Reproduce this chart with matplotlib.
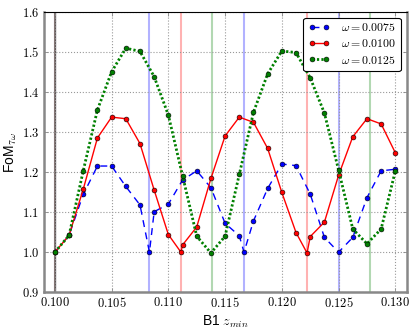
import matplotlib
matplotlib.use("Agg")
import matplotlib.pyplot as plt
from matplotlib.ticker import FuncFormatter

plt.rcParams['mathtext.fontset'] = 'cm'
plt.rcParams['font.family'] = ['Liberation Sans', 'DejaVu Sans']

# ---- data ----
x_blue = [0.1, 0.10125, 0.1025, 0.10375, 0.105, 0.10625, 0.1075, 0.108333, 0.10875,
          0.11, 0.11125, 0.1125, 0.11375, 0.115, 0.11625, 0.116667, 0.1175, 0.11875,
          0.12, 0.12125, 0.1225, 0.12375, 0.125, 0.12625, 0.1275, 0.12875, 0.13]
y_blue = [1.0, 1.042, 1.144, 1.215, 1.215, 1.164, 1.118, 1.0, 1.101,
          1.12, 1.18, 1.203, 1.161, 1.072, 1.041, 1.0, 1.078, 1.159,
          1.22, 1.216, 1.145, 1.037, 1.0, 1.037, 1.136, 1.203, 1.207]

x_red = [0.1, 0.10125, 0.1025, 0.10375, 0.105, 0.10625, 0.1075, 0.10875, 0.11,
         0.111111, 0.11125, 0.1125, 0.11375, 0.115, 0.11625, 0.1175, 0.11875, 0.12,
         0.12125, 0.122222, 0.1225, 0.12375, 0.125, 0.12625, 0.1275, 0.12875, 0.13]
y_red = [1.0, 1.042, 1.157, 1.285, 1.337, 1.333, 1.271, 1.155, 1.044,
         1.0, 1.018, 1.063, 1.184, 1.29, 1.337, 1.324, 1.259, 1.149,
         1.049, 0.998, 1.039, 1.075, 1.192, 1.288, 1.333, 1.32, 1.248]

x_green = [0.1, 0.10125, 0.1025, 0.10375, 0.105, 0.10625, 0.1075, 0.10875, 0.11,
           0.11125, 0.1125, 0.11375, 0.115, 0.11625, 0.1175, 0.11875, 0.12, 0.12125,
           0.1225, 0.12375, 0.125, 0.12625, 0.1275, 0.12875, 0.13]
y_green = [1.0, 1.042, 1.203, 1.355, 1.45, 1.509, 1.501, 1.438, 1.342,
           1.191, 1.04, 0.998, 1.04, 1.194, 1.349, 1.445, 1.502, 1.498,
           1.435, 1.347, 1.205, 1.058, 1.021, 1.058, 1.203]

vlines_blue = [0.1, 0.108333, 0.116667, 0.125]
vlines_red = [0.1, 0.111111, 0.122222]
vlines_green = [0.1, 0.113889, 0.127778]

labels = [r'$\omega = 0.0075$', r'$\omega = 0.0100$', r'$\omega = 0.0125$']
xticks = [0.100, 0.105, 0.110, 0.115, 0.120, 0.125, 0.130]
yticks = [0.9, 1.0, 1.1, 1.2, 1.3, 1.4, 1.5, 1.6]

# ---- figure ----
fig = plt.figure(figsize=(4.16, 3.31), dpi=100)
ax = fig.add_axes([0.1046, 0.1169, 0.873, 0.8478])

for xv in vlines_blue:
    ax.axvline(xv, color='blue', alpha=0.3, lw=1.5, zorder=1)
for xv in vlines_red:
    ax.axvline(xv, color='red', alpha=0.3, lw=1.5, zorder=1)
for xv in vlines_green:
    ax.axvline(xv, color='green', alpha=0.3, lw=1.5, zorder=1)
ax.axvline(vlines_blue[0], color='#333333', alpha=0.5, lw=1.0, zorder=1)

mk = dict(marker='o', ms=3.5, mec='k', mew=0.4)
ax.plot(x_blue, y_blue, color='blue', ls=(0, (5, 4)), lw=1.0, mfc='blue',
        label=labels[0], zorder=3, **mk)
ax.plot(x_red, y_red, color='red', ls='-', lw=1.0, mfc='red',
        label=labels[1], zorder=3, **mk)
ax.plot(x_green, y_green, color='green', ls=(0, (0.8, 0.8)), lw=2.0, mfc='green',
        label=labels[2], zorder=3, **mk)

ax.set_xlim(0.099, 0.131)
ax.set_ylim(0.9, 1.6)
ax.set_xticks(xticks)
ax.set_yticks(yticks)
ax.xaxis.set_major_formatter(FuncFormatter(lambda v, p: r'$%.3f$' % v))
ax.yaxis.set_major_formatter(FuncFormatter(lambda v, p: r'$%.1f$' % v))
ax.tick_params(axis='both', direction='in', length=3, width=0.6, color='#888888',
               labelsize=9, top=True, right=True, pad=3)

ax.grid(True, ls=':', color='#999999', lw=0.8, zorder=0)

for side in ['left', 'bottom', 'right']:
    ax.spines[side].set_color('#888888')
    ax.spines[side].set_linewidth(1.8)
ax.spines['top'].set_color('k')
ax.spines['top'].set_linewidth(0.8)

ax.set_xlabel(r'B1 $z_{min}$', fontsize=10, labelpad=2)
ax.set_ylabel(r'FoM$_{7\omega}$', fontsize=10, labelpad=2)

leg = ax.legend(loc='upper right', fontsize=8.5, numpoints=2, fancybox=True,
                framealpha=1.0, edgecolor='k', handlelength=1.8,
                handletextpad=1.0, borderpad=0.4, labelspacing=0.35,
                borderaxespad=0.5)
leg.get_frame().set_linewidth(0.8)

fig.savefig('out.png', dpi=100)
